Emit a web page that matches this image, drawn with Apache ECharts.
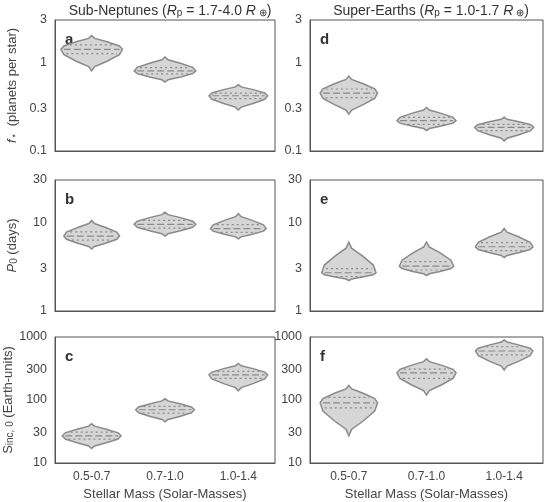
<!DOCTYPE html>
<html><head><meta charset="utf-8">
<script src="https://cdn.jsdelivr.net/npm/echarts@6/dist/echarts.min.js"></script>
<style>html,body{margin:0;background:#fff}#c{width:550px;height:502px}</style>
</head><body><div id="c"></div>
<script>
// 类别（恒星质量区间）
const massBins = ['0.5-0.7', '0.7-1.0', '1.0-1.4'];
// 每个面板：每个小提琴 [最小值, 峰值(最宽处), 最大值, 半宽(类别宽度占比)]
const violinA = [[0.8, 1.4, 2.0, 0.42], [0.6, 0.8, 1.15, 0.42], [0.29, 0.42, 0.56, 0.40]];
const violinD = [[0.26, 0.45, 0.7, 0.37], [0.17, 0.22, 0.31, 0.38], [0.13, 0.185, 0.24, 0.38]];
const violinB = [[5.0, 7.0, 10.5, 0.38], [7.0, 9.5, 13, 0.42], [6.5, 8.5, 12.5, 0.38]];
const violinE = [[2.2, 2.7, 6.0, 0.35], [2.5, 3.2, 6.0, 0.35], [4.0, 5.3, 8.5, 0.37]];
const violinC = [[17, 27, 42, 0.40], [45, 70, 105, 0.40], [140, 250, 380, 0.40]];
const violinF = [[27, 90, 170, 0.37], [120, 270, 450, 0.38], [300, 600, 900, 0.37]];
// 四分位线 [下四分位, 中位数, 上四分位]
const quartA = [[1.25, 1.4, 1.57], [0.74, 0.8, 0.87], [0.39, 0.42, 0.45]];
const quartD = [[0.4, 0.45, 0.5], [0.2, 0.22, 0.24], [0.17, 0.185, 0.2]];
const quartB = [[6.3, 7.0, 7.8], [8.6, 9.5, 10.5], [7.7, 8.5, 9.4]];
const quartE = [[2.45, 2.7, 3.0], [2.9, 3.2, 3.6], [4.8, 5.3, 5.9]];
const quartC = [[24, 27, 31], [62, 70, 79], [220, 250, 285]];
const quartF = [[75, 90, 110], [220, 270, 310], [520, 600, 700]];
// 坐标轴刻度
const ticksTop = [0.1, 0.3, 1, 3];
const ticksMid = [1, 3, 10, 30];
const ticksBot = [10, 30, 100, 300, 1000];

// 通用轮廓模板：[距最宽处的归一化位置, 宽度占比]
const shapeTpl = [[0, 0], [0.2, 0.1], [0.45, 0.5], [0.75, 0.9], [1, 1]];

const L = Math.log10;
const panels = [
  { v: violinA, q: quartA, t: ticksTop, col: 0, row: 0, letter: 'a' },
  { v: violinB, q: quartB, t: ticksMid, col: 0, row: 1, letter: 'b' },
  { v: violinC, q: quartC, t: ticksBot, col: 0, row: 2, letter: 'c' },
  { v: violinD, q: quartD, t: ticksTop, col: 1, row: 0, letter: 'd' },
  { v: violinE, q: quartE, t: ticksMid, col: 1, row: 1, letter: 'e' },
  { v: violinF, q: quartF, t: ticksBot, col: 1, row: 2, letter: 'f' },
];
const yNames = [
  '{i|f}{s|⋆}  (planets per star)',
  '{i|P}{s|0} (days)',
  'S{s|inc, 0} (Earth-units)'
];
const gridTops = [20, 180, 337];
const gridLefts = [55, 310];
const gridWidths = [220, 233];

function profile(d) {
  const [mn, pk, mx, hw] = d;
  const lo = L(mn), p = L(pk), hi = L(mx);
  const pts = [];
  shapeTpl.forEach(([f, w]) => pts.push([lo + (p - lo) * f, hw * w]));
  for (let i = shapeTpl.length - 2; i >= 0; i--) {
    const [f, w] = shapeTpl[i];
    pts.push([hi - (hi - p) * f, hw * w]);
  }
  return pts;
}
function widthAt(pts, y) {
  for (let i = 0; i < pts.length - 1; i++) {
    const a = pts[i], b = pts[i + 1];
    if (y >= a[0] && y <= b[0]) return a[1] + (b[1] - a[1]) * (y - a[0]) / ((b[0] - a[0]) || 1);
  }
  return 0;
}

const grids = [], xAxes = [], yAxes = [], series = [], graphics = [];
panels.forEach((pn, k) => {
  grids.push({ left: gridLefts[pn.col], top: gridTops[pn.row], width: gridWidths[pn.col], height: 131,
    show: true, borderColor: '#555', borderWidth: 1, backgroundColor: 'transparent' });
  xAxes.push({ type: 'category', gridIndex: k, data: massBins,
    axisLine: { onZero: false, lineStyle: { color: '#555' } },
    axisTick: { inside: true, alignWithLabel: true, length: 5, lineStyle: { color: '#555' } },
    axisLabel: { show: pn.row === 2, color: '#444', fontSize: 12, fontFamily: 'Arial' },
    name: pn.row === 2 ? 'Stellar Mass (Solar-Masses)' : '', nameLocation: 'middle', nameGap: 25,
    nameTextStyle: { color: '#444', fontSize: 13, fontFamily: 'Arial' } });
  const tv = pn.t.map(L);
  yAxes.push({ type: 'value', gridIndex: k, min: tv[0], max: tv[tv.length - 1],
    axisLine: { show: true, lineStyle: { color: '#555' } },
    splitLine: { show: false },
    axisTick: { customValues: tv, length: 4, lineStyle: { color: '#555' } },
    axisLabel: { customValues: tv, color: '#444', fontSize: 12.5, fontFamily: 'Arial',
      formatter: v => String(+Math.pow(10, v).toPrecision(2)) },
    name: pn.col === 0 ? yNames[pn.row] : '', nameLocation: 'middle', nameGap: 36,
    nameTextStyle: { color: '#444', fontSize: 13, fontFamily: 'Arial',
      rich: { i: { fontStyle: 'italic', fontSize: 13, color: '#444' }, s: { fontSize: 10, color: '#444', verticalAlign: 'bottom' } } } });
  const data = pn.v.map((d, i) => [i, L(d[1])]);
  series.push({ type: 'custom', xAxisIndex: k, yAxisIndex: k, data, silent: true,
    renderItem: (params, api) => {
      const i = params.dataIndex;
      const pts = profile(pn.v[i]);
      const cw = api.size([1, 0])[0];
      const cx = api.coord([i, 0])[0];
      const right = pts.map(([y, w]) => [cx + w * cw, api.coord([i, y])[1]]);
      const left = pts.slice().reverse().map(([y, w]) => [cx - w * cw, api.coord([i, y])[1]]);
      const children = [{ type: 'polygon', shape: { points: right.concat(left) },
        style: { fill: '#d6d6d6', stroke: '#8a8a8a', lineWidth: 1.5 } }];
      pn.q[i].forEach((qv, j) => {
        const y = L(qv), w = widthAt(pts, y) * cw, py = api.coord([i, y])[1];
        children.push({ type: 'line', shape: { x1: cx - w + 3, y1: py, x2: cx + w - 3, y2: py },
          style: { stroke: '#8a8a8a', lineWidth: 1.2, lineDash: j === 1 ? [7, 3] : [2, 3] } });
      });
      return { type: 'group', children };
    } });
  graphics.push({ type: 'text', left: gridLefts[pn.col] + 10, top: gridTops[pn.row] + 12,
    style: { text: pn.letter, font: 'bold 15px Arial', fill: '#333' } });
});
const titleRich = { i: { fontStyle: 'italic', fontSize: 14, color: '#333', fontFamily: 'Arial' },
  s: { fontSize: 10, color: '#333', fontFamily: 'Arial', verticalAlign: 'bottom' } };
const chart = echarts.init(document.getElementById('c'));
chart.setOption({
  animation: false,
  title: [
    { text: 'Sub-Neptunes ({i|R}{s|p} = 1.7-4.0 {i|R}{s| ⊕})', left: 165, top: -1, textAlign: 'center',
      textStyle: { fontSize: 14, fontWeight: 'normal', color: '#333', fontFamily: 'Arial', rich: titleRich } },
    { text: 'Super-Earths ({i|R}{s|p} = 1.0-1.7 {i|R}{s| ⊕})', left: 426, top: -1, textAlign: 'center',
      textStyle: { fontSize: 14, fontWeight: 'normal', color: '#333', fontFamily: 'Arial', rich: titleRich } }
  ],
  grid: grids, xAxis: xAxes, yAxis: yAxes, series, graphic: graphics
});
</script></body></html>
